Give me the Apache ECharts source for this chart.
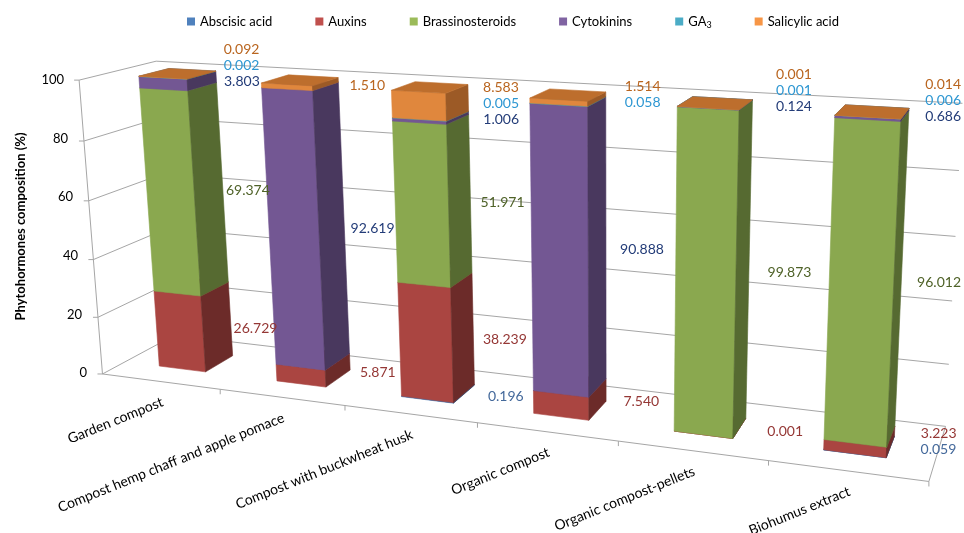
<!DOCTYPE html>
<html><head><meta charset="utf-8">
<script src="https://cdn.jsdelivr.net/npm/echarts@6/dist/echarts.min.js"></script>
<style>html,body{margin:0;padding:0;background:#fff}#chart{width:964px;height:533px}</style>
</head><body><div id="chart"></div>
<script>
// ---------- data ----------
const categories = ['Garden compost', 'Compost hemp chaff and apple pomace', 'Compost with buckwheat husk', 'Organic compost', 'Organic compost-pellets', 'Biohumus extract'];
const seriesNames = ['Abscisic acid', 'Auxins', 'Brassinosteroids', 'Cytokinins', 'GA3', 'Salicylic acid'];
const abscisic = [0, 0, 0.196, 0, 0, 0.059];
const auxins = [26.729, 5.871, 38.239, 7.540, 0.001, 3.223];
const brassinosteroids = [69.374, 0, 51.971, 0, 99.873, 96.012];
const cytokinins = [3.803, 92.619, 1.006, 90.888, 0.124, 0.686];
const ga3 = [0.002, 0, 0.005, 0.058, 0.001, 0.006];
const salicylic = [0.092, 1.510, 8.583, 1.514, 0.001, 0.014];
const yTicks = [0, 20, 40, 60, 80, 100];

// ---------- styles ----------
const valueSeries = [abscisic, auxins, brassinosteroids, cytokinins, ga3, salicylic];
const baseColors = ['#4F81BD', '#C0504D', '#9BBB59', '#8064A2', '#4BACC6', '#F79646'];
const frontColors = ['#4676B0', '#AA4541', '#8AA84F', '#735793', '#409DB6', '#E0873D'];
const sideColors = ['#2E4E78', '#6C2B29', '#566A31', '#49385E', '#2A6878', '#9C5A26'];
const topColors = ['#3D6899', '#933B38', '#7A9446', '#654D82', '#3A8BA1', '#BD6E2D'];
const labelColors = ['#44699B', '#953735', '#4F6228', '#233C78', '#2E97D2', '#B9651F'];
const FONT = 'Lato, "Open Sans", sans-serif';
const GRID_COLOR = '#A6A6A6';
const Y_MAX = 100;
const NCAT = categories.length;
const BAR_FRAC = 0.4, Z0 = 0.3, Z1 = 0.7;
const LBL_DX = 0.5, LBL_Z = 0.55, LBL_GAP = 16, LBL_RIGHT_LIMIT = 961;

// ---------- perspective camera (fit from the frame of the 3-D box) ----------
// [X (category units), Y (value units), Z (0 front .. 1 back wall), screen x, screen y]
const CALIB = [
  [0, 0, 0, 101, 373], [0, 20, 0, 97, 317], [0, 40, 0, 93, 258], [0, 60, 0, 89, 200], [0, 80, 0, 85, 140], [0, 100, 0, 81, 80],
  [1, 0, 0, 221, 390], [2, 0, 0, 345, 407], [3, 0, 0, 478, 423], [4, 0, 0, 618, 442], [5, 0, 0, 768, 462], [6, 0, 0, 928, 482],
  [0, 0, 1, 176, 335], [0, 20, 1, 172, 283], [0, 100, 1, 153, 63],
  [6, 0, 1, 945, 425], [6, 20, 1, 950, 363], [6, 40, 1, 952, 300], [6, 100, 1, 963, 104]
];
function solveLinear(M, r) {
  const n = r.length;
  const A = M.map((row, i) => row.concat([r[i]]));
  for (let c = 0; c < n; c++) {
    let p = c;
    for (let k = c + 1; k < n; k++) if (Math.abs(A[k][c]) > Math.abs(A[p][c])) p = k;
    const tmp = A[c]; A[c] = A[p]; A[p] = tmp;
    for (let k = 0; k < n; k++) {
      if (k === c) continue;
      const f = A[k][c] / A[c][c];
      for (let j = c; j <= n; j++) A[k][j] -= f * A[c][j];
    }
  }
  return A.map((row, i) => row[n] / row[i]);
}
function fitCamera(pts) {
  const n = 11;
  const M = Array.from({length: n}, () => new Array(n).fill(0));
  const r = new Array(n).fill(0);
  const add = (row, rhs) => {
    for (let i = 0; i < n; i++) {
      r[i] += row[i] * rhs;
      for (let j = 0; j < n; j++) M[i][j] += row[i] * row[j];
    }
  };
  pts.forEach(([X, Y, Z, u, v]) => {
    const x = X / NCAT, y = Y / Y_MAX;
    add([x, y, Z, 1, 0, 0, 0, 0, -u * x, -u * y, -u * Z], u);
    add([0, 0, 0, 0, x, y, Z, 1, -v * x, -v * y, -v * Z], v);
  });
  return solveLinear(M, r);
}
const H = fitCamera(CALIB);
function project(X, Y, Z) {
  const x = X / NCAT, y = Y / Y_MAX;
  const w = H[8] * x + H[9] * y + H[10] * Z + 1;
  return [(H[0] * x + H[1] * y + H[2] * Z + H[3]) / w, (H[4] * x + H[5] * y + H[6] * Z + H[7]) / w];
}
// convert a point given by the cartesian grid (library scale) to box units
function toWorld(cs, p) {
  return [(p[0] - cs.x) / cs.width * NCAT, (cs.y + cs.height - p[1]) / cs.height * Y_MAX];
}
function poly(pts, color) {
  return {type: 'polygon', shape: {points: pts}, style: {fill: color, stroke: color, lineWidth: 0.6}};
}
function line(a, b, w) {
  return {type: 'line', shape: {x1: a[0], y1: a[1], x2: b[0], y2: b[1]}, style: {stroke: GRID_COLOR, lineWidth: w || 1}};
}
const measureCtx = document.createElement('canvas').getContext('2d');
function textWidth(t, size) {
  measureCtx.font = size + 'px ' + FONT;
  return measureCtx.measureText(t).width;
}

// cumulative bases for stacking
const bases = [];
valueSeries.forEach((arr, s) => {
  bases.push(categories.map((c, i) => s === 0 ? 0 : bases[s - 1][i] + valueSeries[s - 1][i]));
});

// y-axis labels follow the leaning front axis of the box
const axisLean = {};
yTicks.forEach(v => {
  axisLean['p' + v] = {fontFamily: FONT, fontSize: 13, color: '#000',
    padding: [0, Math.max(0, Math.round(project(0, 0, 0)[0] - project(0, v, 0)[0])), 0, 0]};
});

const chart = echarts.init(document.getElementById('chart'), null, {renderer: 'canvas'});

const frameSeries = {
  type: 'custom', name: 'frame', coordinateSystem: 'cartesian2d', silent: true, clip: false, z: 1,
  data: yTicks.map(v => [0, v]), encode: {x: 0, y: 1},
  renderItem(params, api) {
    const cs = params.coordSys;
    const Y = toWorld(cs, api.coord([0, api.value(1)]))[1];
    const ch = [
      line(project(0, Y, 1), project(NCAT, Y, 1)),
      line(project(0, Y, 0), project(0, Y, 1))
    ];
    const a = project(0, Y, 0);
    ch.push(line([a[0] - 5, a[1]], a));
    if (params.dataIndex === 0) {
      ch.push(line(project(0, 0, 0), project(0, Y_MAX, 0)));
      ch.push(line(project(0, 0, 0), project(NCAT, 0, 0)));
      ch.push(line(project(NCAT, 0, 0), project(NCAT, 0, 1)));
      for (let k = 1; k <= NCAT; k++) {
        const t = project(k, 0, 0);
        ch.push(line(t, [t[0], t[1] + 5]));
      }
    }
    return {type: 'group', children: ch};
  }
};

const barSeries = seriesNames.map((name, s) => ({
  type: 'custom', name, coordinateSystem: 'cartesian2d', silent: true, clip: false, z: 2,
  itemStyle: {color: baseColors[s]},
  data: categories.map((c, i) => [i, bases[s][i], bases[s][i] + valueSeries[s][i]]),
  encode: {x: 0, y: [1, 2]},
  renderItem(params, api) {
    const b = api.value(1), t = api.value(2);
    if (!(t - b > 0)) return null;
    const cs = params.coordSys;
    const i = api.value(0);
    const pb = toWorld(cs, api.coord([i, b]));
    const pt = toWorld(cs, api.coord([i, t]));
    const hw = api.size([1, 0])[0] / cs.width * NCAT * BAR_FRAC / 2;
    const x0 = pb[0] - hw, x1 = pb[0] + hw, y0 = pb[1], y1 = pt[1];
    const front = [project(x0, y0, Z0), project(x1, y0, Z0), project(x1, y1, Z0), project(x0, y1, Z0)];
    const side = [project(x1, y0, Z0), project(x1, y0, Z1), project(x1, y1, Z1), project(x1, y1, Z0)];
    const top = [project(x0, y1, Z0), project(x1, y1, Z0), project(x1, y1, Z1), project(x0, y1, Z1)];
    return {type: 'group', children: [poly(front, frontColors[s]), poly(side, sideColors[s]), poly(top, topColors[s])]};
  }
}));

const valueLabelSeries = {
  type: 'custom', name: 'valueLabels', coordinateSystem: 'cartesian2d', silent: true, clip: false, z: 5,
  data: categories.map((c, i) => [i, 0]), encode: {x: 0, y: 1},
  renderItem(params, api) {
    const cs = params.coordSys;
    const i = api.value(0);
    const xc = toWorld(cs, api.coord([i, 0]))[0];
    const items = [];
    let base = 0;
    valueSeries.forEach((arr, s) => {
      const v = arr[i];
      if (v > 0) {
        const mid = toWorld(cs, api.coord([i, base + v / 2]))[1];
        const p = project(xc + LBL_DX, mid, LBL_Z);
        items.push({x: p[0], y: p[1], text: v.toFixed(3), color: labelColors[s]});
      }
      base += v;
    });
    for (let k = 1; k < items.length; k++) {
      if (items[k].y > items[k - 1].y - LBL_GAP) items[k].y = items[k - 1].y - LBL_GAP;
    }
    return {type: 'group', children: items.map(it => {
      const w = textWidth(it.text, 14);
      let x = it.x, align = 'center';
      if (x + w / 2 > LBL_RIGHT_LIMIT) { x = LBL_RIGHT_LIMIT; align = 'right'; }
      return {type: 'text', x, y: it.y,
        style: {text: it.text, fill: it.color, align, verticalAlign: 'middle', fontFamily: FONT, fontSize: 14}};
    })};
  }
};

const catLabelSeries = {
  type: 'custom', name: 'catLabels', coordinateSystem: 'cartesian2d', silent: true, clip: false, z: 5,
  data: categories.map((c, i) => [i, 0]), encode: {x: 0, y: 1},
  renderItem(params, api) {
    const cs = params.coordSys;
    const i = api.value(0);
    const w = toWorld(cs, api.coord([i, 0]));
    const p = project(w[0], 0, 0);
    return {type: 'text', x: p[0] + 2, y: p[1] + 20, rotation: 22 * Math.PI / 180,
      style: {text: categories[i], fill: '#000', align: 'right', verticalAlign: 'middle', fontFamily: FONT, fontSize: 14}};
  }
};

chart.setOption({
  animation: false,
  backgroundColor: '#fff',
  legend: {
    top: 10, left: 182, itemWidth: 8, itemHeight: 8, itemGap: 43, icon: 'rect',
    data: seriesNames,
    formatter: n => n === 'GA3' ? 'GA{sub|3}' : n,
    textStyle: {fontFamily: FONT, fontSize: 13, color: '#000',
      rich: {sub: {fontFamily: FONT, fontSize: 9, padding: [8, 0, 0, 0]}}}
  },
  grid: {left: 101, right: 36, top: 80, bottom: 160},
  xAxis: {type: 'category', data: categories, show: false},
  yAxis: {
    type: 'value', min: 0, max: Y_MAX, interval: 20,
    axisLine: {show: false}, axisTick: {show: false}, splitLine: {show: false},
    axisLabel: {margin: 14, formatter: v => '{p' + v + '|' + v + '}', rich: axisLean,
      fontFamily: FONT, fontSize: 13, color: '#000'},
    name: 'Phytohormones composition (%)', nameLocation: 'middle', nameRotate: 90, nameGap: 74,
    nameTextStyle: {fontFamily: FONT, fontWeight: 'bold', fontSize: 13, color: '#000'}
  },
  series: [frameSeries].concat(barSeries, [valueLabelSeries, catLabelSeries])
});
</script></body></html>
